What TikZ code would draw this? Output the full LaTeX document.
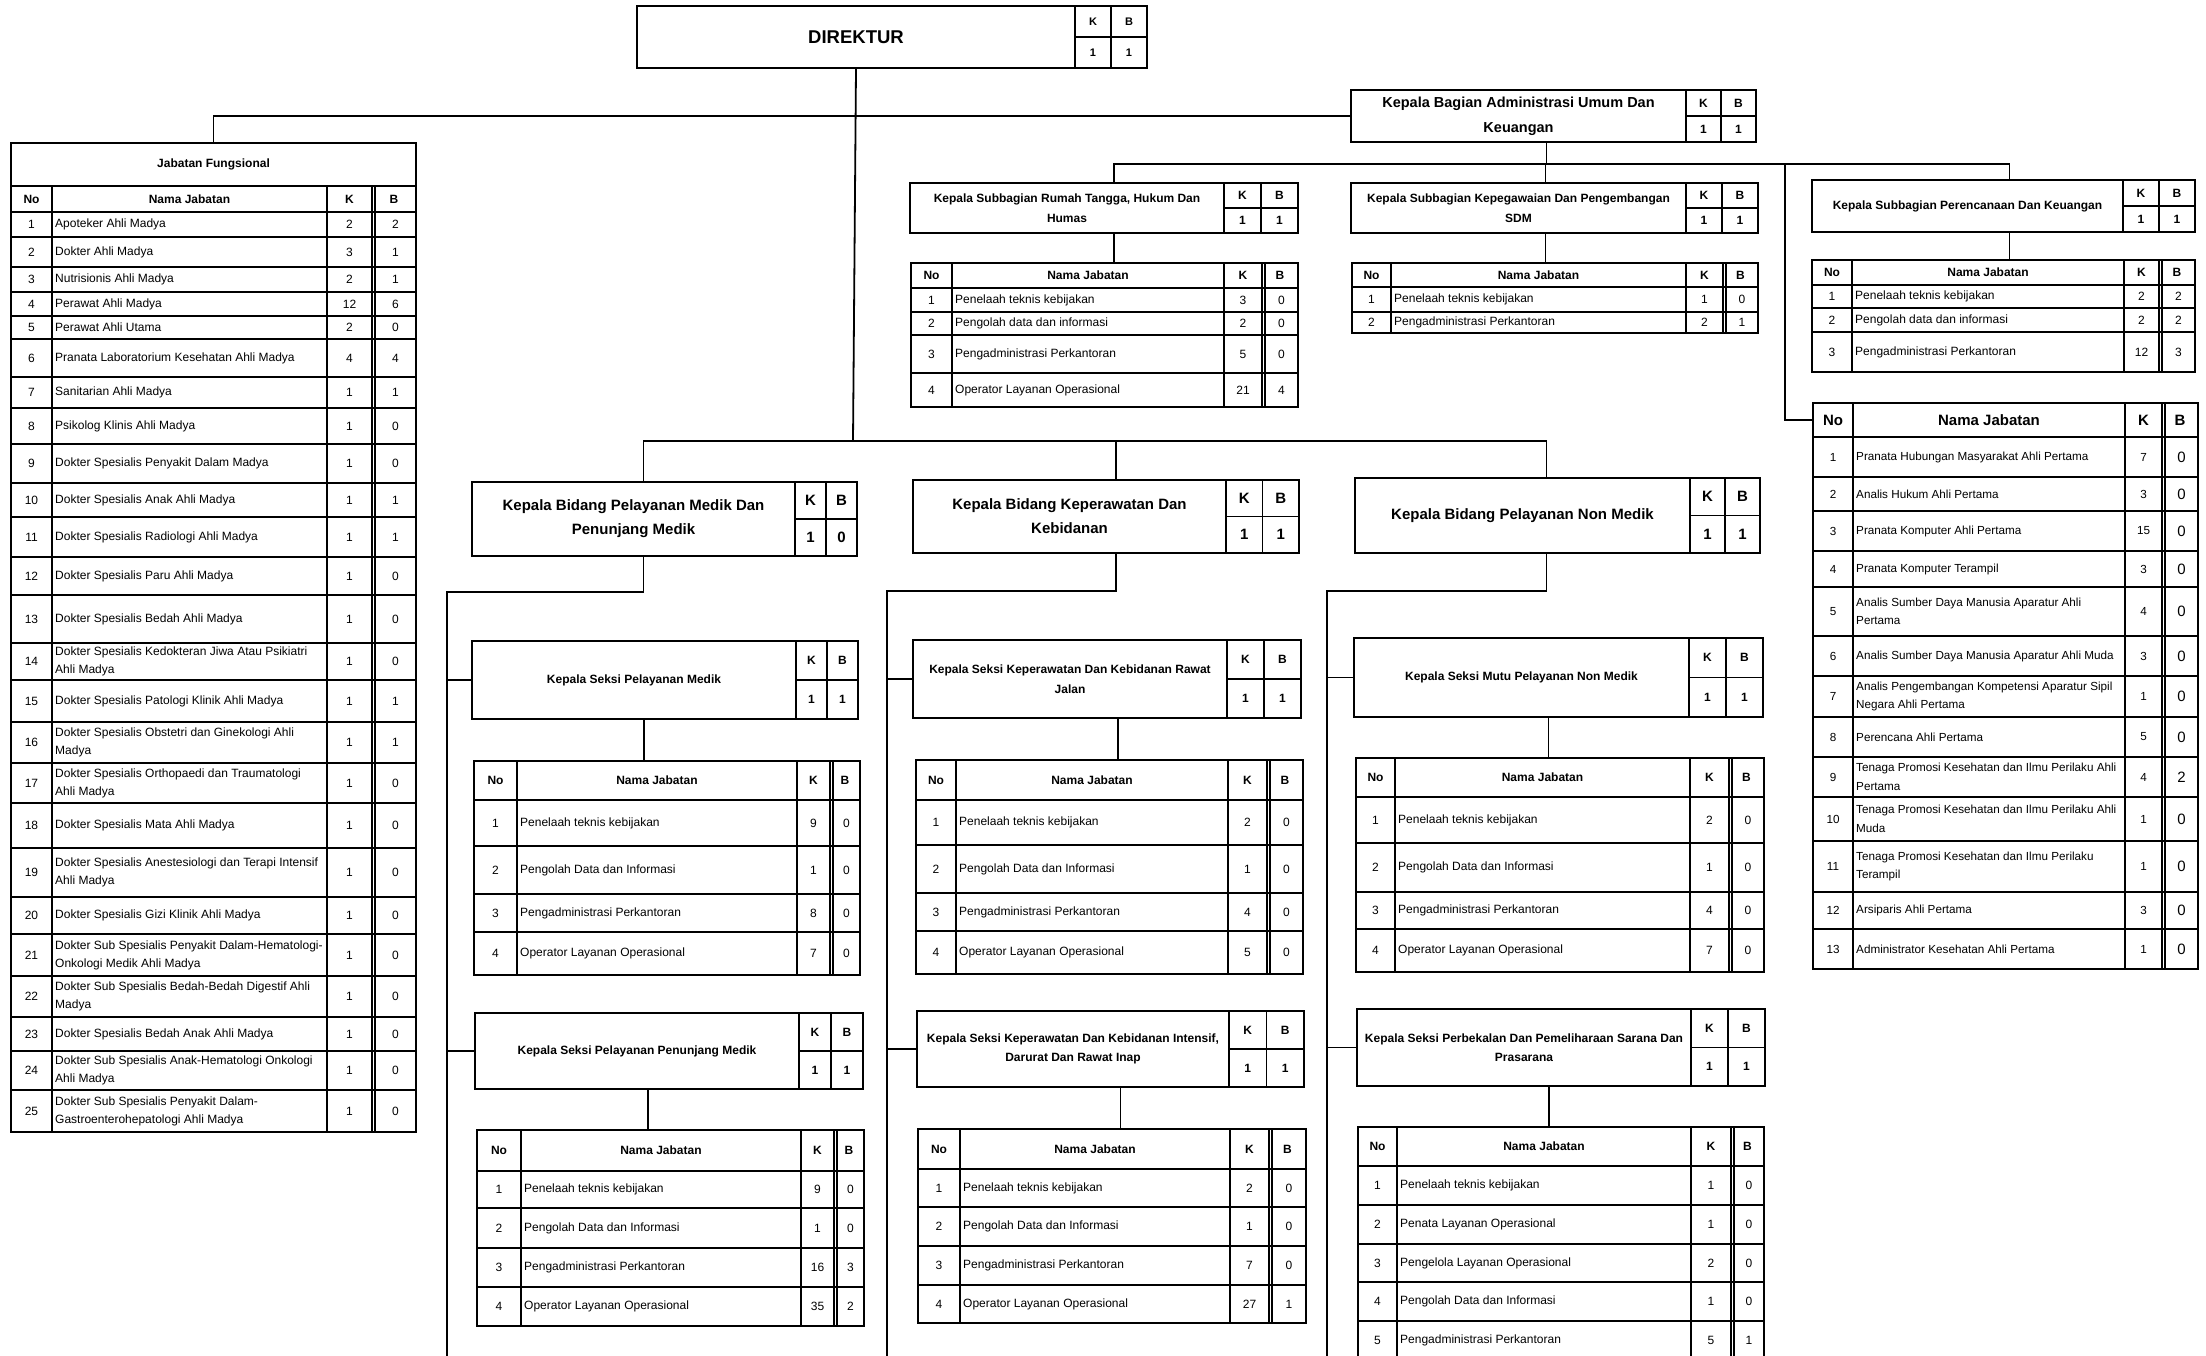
\documentclass[tikz,border=0pt]{standalone}
\usepackage{fontspec}
\setmainfont{Liberation Sans}
\tikzset{
    kotak/.style={draw, line width=1.8pt, inner sep=0pt},
    garis/.style={line width=1.8pt},
    hubung/.style={line width=1.8pt},
    judul/.style={font=\bfseries\fontsize{12}{19.5}\selectfont, align=center, inner sep=0pt},
    sel/.style={font=\bfseries\fontsize{12}{14}\selectfont, inner sep=0pt},
    tabel/.style={draw, line width=1.5pt, inner sep=0pt},
    tipis/.style={line width=1.5pt},
    kepala/.style={font=\bfseries\fontsize{12}{14}\selectfont, inner sep=0pt},
    isi/.style={font=\fontsize{12}{18}\selectfont, inner sep=0pt},
    isi b/.style={isi}
}
% kotak jabatan: nama, kiri, atas, kanan, bawah, x kolom K, teks, K, B
\newcommand{\kotak}[9]{%
    \pgfmathsetmacro{\kL}{#4-#2}%
    \pgfmathsetmacro{\kW}{#6-#2}%
    \pgfmathsetmacro{\kT}{#5-#3}%
    \pgfmathsetmacro{\kM}{(#3+#5)/2}%
    \pgfmathsetmacro{\kS}{(#6+#4)/2}%
    \node[kotak, minimum width=\kL pt, minimum height=\kT pt] (#1) at ({(#2+#4)/2},\kM) {};
    \node[judul, minimum width=\kW pt, minimum height=\kT pt] (#1-t) at ({(#2+#6)/2},\kM) {#7};
    \draw[garis] (#6,#3) -- (#6,#5) (\kS,#3) -- (\kS,#5) (#6,\kM) -- (#4,\kM);
    \node[sel] (#1-k) at ({(#6+\kS)/2},{(#3+\kM)/2}) {K};
    \node[sel] (#1-b) at ({(\kS+#4)/2},{(#3+\kM)/2}) {B};
    \node[sel] (#1-nk) at ({(#6+\kS)/2},{(\kM+#5)/2}) {#8};
    \node[sel] (#1-nb) at ({(\kS+#4)/2},{(\kM+#5)/2}) {#9};
}
% tabel: nama, kiri, batas No, batas nama, batas K, kanan, atas, bawah kepala, baris
\newcommand{\tabel}[9]{%
    \pgfmathsetmacro{\tL}{#6-#2}%
    \pgfmathsetmacro{\tT}{#8-#7}%
    \pgfmathsetmacro{\tM}{(#7+#8)/2}%
    \node[tabel, minimum width=\tL pt, minimum height=\tT pt] (#1) at ({(#2+#6)/2},\tM) {};
    \draw[tipis] (#3,#7) -- (#3,#8) (#4,#7) -- (#4,#8) (#5,#7) -- (#5,#8) ({#5+3},#7) -- ({#5+3},#8);
    \node[kepala] (#1-no) at ({(#2+#3)/2},\tM) {No};
    \node[kepala] (#1-nama) at ({(#3+#4)/2},\tM) {Nama Jabatan};
    \node[kepala] (#1-k) at ({(#4+#5)/2},\tM) {K};
    \node[kepala] (#1-b) at ({(#5+#6)/2},\tM) {B};
    \foreach \vNo/\vNama/\vK/\vB/\vY [remember=\vY as \vA (initially #8)] in {#9}{
        \pgfmathsetmacro{\vM}{(\vA+\vY)/2}
        \draw[tipis] (#2,\vA) rectangle (#6,\vY) (#3,\vA) -- (#3,\vY) (#4,\vA) -- (#4,\vY)
            (#5,\vA) -- (#5,\vY) ({#5+3},\vA) -- ({#5+3},\vY);
        \node[isi] (#1-\vNo) at ({(#2+#3)/2},\vM) {\vNo};
        \node[isi, anchor=west, align=left, inner xsep=3pt] (#1-\vNo-j) at (#3,\vM) {\vNama};
        \node[isi] (#1-\vNo-k) at ({(#4+#5)/2},\vM) {\vK};
        \node[isi b] (#1-\vNo-b) at ({(#5+3+#6)/2},\vM) {\vB};
    }
}

\begin{document}
\begin{tikzpicture}[x=1pt, y=-1pt]
    \path[fill=white, use as bounding box] (0,0) rectangle (2206,1355);

    % Direktur dan Kepala Bagian
    \begin{scope}[judul/.append style={font=\bfseries\fontsize{18.5}{22}\selectfont},
                  sel/.append style={font=\bfseries\fontsize{11}{13}\selectfont}]
        \kotak{dir}{637}{6}{1147}{68}{1075}{DIREKTUR}{1}{1}
    \end{scope}
    \begin{scope}[judul/.append style={font=\bfseries\fontsize{14.5}{25}\selectfont}]
        \kotak{kabag}{1351}{90}{1756}{142}{1686}{Kepala Bagian Administrasi Umum Dan\\Keuangan}{1}{1}
    \end{scope}

    % Subbagian
    \kotak{sb1}{910}{183}{1298}{233}{1224}{Kepala Subbagian Rumah Tangga, Hukum Dan\\Humas}{1}{1}
    \kotak{sb2}{1351}{183}{1758}{233}{1686}{Kepala Subbagian Kepegawaian Dan Pengembangan\\SDM}{1}{1}
    \kotak{sb3}{1812}{180}{2195}{232}{2123}{Kepala Subbagian Perencanaan Dan Keuangan}{1}{1}

    \tabel{t1}{911}{952}{1224}{1262}{1298}{263}{288}{
        1/Penelaah teknis kebijakan/3/0/312,
        2/Pengolah data dan informasi/2/0/335,
        3/Pengadministrasi Perkantoran/5/0/373,
        4/Operator Layanan Operasional/21/4/407}
    \tabel{t2}{1352}{1391}{1686}{1723}{1758}{263}{287}{
        1/Penelaah teknis kebijakan/1/0/312,
        2/Pengadministrasi Perkantoran/2/1/333}
    \tabel{t3}{1812}{1852}{2124}{2159}{2195}{260}{285}{
        1/Penelaah teknis kebijakan/2/2/308,
        2/Pengolah data dan informasi/2/2/332,
        3/Pengadministrasi Perkantoran/12/3/372}

    % Jabatan fungsional bagian
    \begin{scope}[kepala/.append style={font=\bfseries\fontsize{15}{17}\selectfont},
                  isi/.append style={font=\fontsize{11.7}{18.5}\selectfont},
                  isi b/.append style={font=\fontsize{15}{17}\selectfont}]
        \tabel{pj}{1813}{1853}{2125}{2162}{2198}{403}{437}{
            1/Pranata Hubungan Masyarakat Ahli Pertama/7/0/477,
            2/Analis Hukum Ahli Pertama/3/0/511,
            3/Pranata Komputer Ahli Pertama/15/0/551,
            4/Pranata Komputer Terampil/3/0/587,
            5/Analis Sumber Daya Manusia Aparatur Ahli\\Pertama/4/0/636,
            6/Analis Sumber Daya Manusia Aparatur Ahli Muda/3/0/676,
            7/Analis Pengembangan Kompetensi Aparatur Sipil\\Negara Ahli Pertama/1/0/717,
            8/Perencana Ahli Pertama/5/0/757,
            9/Tenaga Promosi Kesehatan dan Ilmu Perilaku Ahli\\Pertama/4/2/797,
            10/Tenaga Promosi Kesehatan dan Ilmu Perilaku Ahli\\Muda/1/0/841,
            11/Tenaga Promosi Kesehatan dan Ilmu Perilaku\\Terampil/1/0/892,
            12/Arsiparis Ahli Pertama/3/0/929,
            13/Administrator Kesehatan Ahli Pertama/1/0/969}
    \end{scope}

    % Jabatan fungsional
    \node[tabel, minimum width=405pt, minimum height=43pt, font=\bfseries\fontsize{12}{14}\selectfont] (jf) at (213.5,164.5) {Jabatan Fungsional};
    \tabel{tjf}{11}{52}{327}{372}{416}{186}{212}{
        1/Apoteker Ahli Madya/2/2/237,
        2/Dokter Ahli Madya/3/1/267,
        3/Nutrisionis Ahli Madya/2/1/292,
        4/Perawat Ahli Madya/12/6/316,
        5/Perawat Ahli Utama/2/0/339,
        6/Pranata Laboratorium Kesehatan Ahli Madya/4/4/377,
        7/Sanitarian Ahli Madya/1/1/408,
        8/Psikolog Klinis Ahli Madya/1/0/444,
        9/Dokter Spesialis Penyakit Dalam Madya/1/0/483,
        10/Dokter Spesialis Anak Ahli Madya/1/1/517,
        11/Dokter Spesialis Radiologi Ahli Madya/1/1/557,
        12/Dokter Spesialis Paru Ahli Madya/1/0/595,
        13/Dokter Spesialis Bedah Ahli Madya/1/0/643,
        14/Dokter Spesialis Kedokteran Jiwa Atau Psikiatri\\Ahli Madya/1/0/680,
        15/Dokter Spesialis Patologi Klinik Ahli Madya/1/1/722,
        16/Dokter Spesialis Obstetri dan Ginekologi Ahli\\Madya/1/1/763,
        17/Dokter Spesialis Orthopaedi dan Traumatologi\\Ahli Madya/1/0/803,
        18/Dokter Spesialis Mata Ahli Madya/1/0/848,
        19/Dokter Spesialis Anestesiologi dan Terapi Intensif\\Ahli Madya/1/0/897,
        20/Dokter Spesialis Gizi Klinik Ahli Madya/1/0/934,
        21/Dokter Sub Spesialis Penyakit Dalam-Hematologi-\\Onkologi Medik Ahli Madya/1/0/976,
        22/Dokter Sub Spesialis Bedah-Bedah Digestif Ahli\\Madya/1/0/1017,
        23/Dokter Spesialis Bedah Anak Ahli Madya/1/0/1051,
        24/Dokter Sub Spesialis Anak-Hematologi Onkologi\\Ahli Madya/1/0/1090,
        25/Dokter Sub Spesialis Penyakit Dalam-\\Gastroenterohepatologi Ahli Madya/1/0/1132}

    % Bidang
    \begin{scope}[judul/.append style={font=\bfseries\fontsize{15}{24}\selectfont},
                  sel/.append style={font=\bfseries\fontsize{15}{17}\selectfont}]
        \kotak{bid1}{472}{482}{857}{556}{795}{Kepala Bidang Pelayanan Medik Dan\\Penunjang Medik}{1}{0}
        \kotak{bid2}{913}{480}{1299}{553}{1226}{Kepala Bidang Keperawatan Dan\\Kebidanan}{1}{1}
        \kotak{bid3}{1355}{478}{1760}{553}{1690}{Kepala Bidang Pelayanan Non Medik}{1}{1}
    \end{scope}

    % Seksi
    \kotak{sA1}{472}{641}{858}{719}{796}{Kepala Seksi Pelayanan Medik}{1}{1}
    \kotak{sA2}{475}{1013}{863}{1089}{799}{Kepala Seksi Pelayanan Penunjang Medik}{1}{1}
    \kotak{sB1}{913}{640}{1301}{718}{1227}{Kepala Seksi Keperawatan Dan Kebidanan Rawat\\Jalan}{1}{1}
    \kotak{sB2}{917}{1011}{1304}{1087}{1229}{Kepala Seksi Keperawatan Dan Kebidanan Intensif,\\Darurat Dan Rawat Inap}{1}{1}
    \kotak{sC1}{1354}{638}{1763}{717}{1689}{Kepala Seksi Mutu Pelayanan Non Medik}{1}{1}
    \kotak{sC2}{1357}{1009}{1765}{1086}{1691}{Kepala Seksi Perbekalan Dan Pemeliharaan Sarana Dan\\Prasarana}{1}{1}

    \tabel{tA1}{474}{517}{797}{830}{860}{761}{800}{
        1/Penelaah teknis kebijakan/9/0/846,
        2/Pengolah Data dan Informasi/1/0/894,
        3/Pengadministrasi Perkantoran/8/0/932,
        4/Operator Layanan Operasional/7/0/975}
    \tabel{tA2}{477}{521}{801}{834}{864}{1130}{1171}{
        1/Penelaah teknis kebijakan/9/0/1208,
        2/Pengolah Data dan Informasi/1/0/1248,
        3/Pengadministrasi Perkantoran/16/3/1287,
        4/Operator Layanan Operasional/35/2/1326}
    \tabel{tB1}{916}{956}{1228}{1267}{1303}{760}{800}{
        1/Penelaah teknis kebijakan/2/0/845,
        2/Pengolah Data dan Informasi/1/0/893,
        3/Pengadministrasi Perkantoran/4/0/931,
        4/Operator Layanan Operasional/5/0/974}
    \tabel{tB2}{918}{960}{1230}{1269}{1306}{1129}{1169}{
        1/Penelaah teknis kebijakan/2/0/1207,
        2/Pengolah Data dan Informasi/1/0/1246,
        3/Pengadministrasi Perkantoran/7/0/1285,
        4/Operator Layanan Operasional/27/1/1323}
    \tabel{tC1}{1356}{1395}{1690}{1729}{1764}{758}{797}{
        1/Penelaah teknis kebijakan/2/0/843,
        2/Pengolah Data dan Informasi/1/0/892,
        3/Pengadministrasi Perkantoran/4/0/929,
        4/Operator Layanan Operasional/7/0/972}
    \tabel{tC2}{1358}{1397}{1691}{1731}{1764}{1127}{1166}{
        1/Penelaah teknis kebijakan/1/0/1205,
        2/Penata Layanan Operasional/1/0/1244,
        3/Pengelola Layanan Operasional/2/0/1282,
        4/Pengolah Data dan Informasi/1/0/1321,
        5/Pengadministrasi Perkantoran/5/1/1360}

    % Garis hubung
    \coordinate (busB) at (853,441);
    \coordinate (busS) at (1546,164);
    \coordinate (cabPJ) at (1785,164);
    \draw[hubung] (jf.north) |- (kabag.west);
    \draw[hubung] (dir-t.south) -- (busB);
    \draw[hubung] ([xshift=-21pt]bid1.north) |- (busB) -| ([xshift=-11pt]bid3.north);
    \draw[hubung] ([xshift=10pt]bid2.north) -- ([xshift=10pt]bid2.north |- busB);
    \draw[hubung] ([xshift=-7pt]kabag.south) -- ([xshift=-7pt]kabag.south |- busS);
    \draw[hubung] ([xshift=10pt]sb1.north) |- (busS) -| ([xshift=6pt]sb3.north);
    \draw[hubung] ([xshift=-9pt]sb2.north) -- ([xshift=-9pt]sb2.north |- busS);
    \draw[hubung] (cabPJ) |- (pj.west);
    \foreach \s/\tb/\d in {sb1/t1/10, sb2/t2/-9, sb3/t3/6, sA1/tA1/-21, sA2/tA2/-21,
                           sB1/tB1/11, sB2/tB2/10, sC1/tC1/-10, sC2/tC2/-12}
        \draw[hubung] ([xshift=\d pt]\s.south) -- ([xshift=\d pt]\s.south |- \tb.north);

    \coordinate (k1) at (447,592);
    \coordinate (k1b) at (447,1360);
    \coordinate (k2) at (887,591);
    \coordinate (k2b) at (887,1360);
    \coordinate (k3) at (1327,591);
    \coordinate (k3b) at (1327,1360);
    \draw[hubung] ([xshift=-21pt]bid1.south) |- (k1) -- (k1b);
    \draw[hubung] ([xshift=10pt]bid2.south) |- (k2) -- (k2b);
    \draw[hubung] ([xshift=-11pt]bid3.south) |- (k3) -- (k3b);
    \foreach \s/\k in {sA1/k1, sA2/k1, sB1/k2, sB2/k2, sC1/k3, sC2/k3}
        \draw[hubung] (\s.west) -- (\s.west -| \k);
\end{tikzpicture}
\end{document}
